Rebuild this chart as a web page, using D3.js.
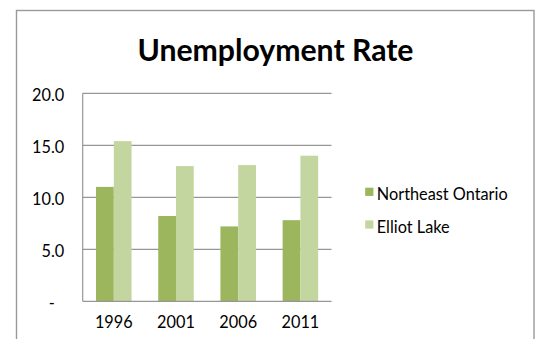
<!DOCTYPE html>
<html>
<head>
<meta charset="utf-8">
<script src="https://cdn.jsdelivr.net/npm/d3@7/dist/d3.min.js"></script>
<style>
  html, body { margin: 0; padding: 0; background: #ffffff; }
  svg { display: block; }
  text { font-family: Lato, "Open Sans", sans-serif; fill: #000; }
</style>
</head>
<body>
<svg id="chart" width="537" height="339"></svg>
<script>
// Unemployment rate (%) by census year
const years = ["1996", "2001", "2006", "2011"];
const seriesNames = ["Northeast Ontario", "Elliot Lake"];
const northeastOntario = [11.0, 8.2, 7.2, 7.8];
const elliotLake = [15.4, 13.0, 13.1, 14.0];
const yTicks = [0, 5, 10, 15, 20];
const chartTitle = "Unemployment Rate";

const colors = { "Northeast Ontario": "#9bb65c", "Elliot Lake": "#c4d6a0" };
const valuesBySeries = { "Northeast Ontario": northeastOntario, "Elliot Lake": elliotLake };

const labelSize = "16.3px";
const svg = d3.select("#chart");

// chart frame
svg.append("rect")
  .attr("x", 16.5).attr("y", 10.5)
  .attr("width", 517.5).attr("height", 400)
  .attr("fill", "#fff")
  .attr("stroke", "#9a9a9a")
  .attr("stroke-width", 1.4);

// title
svg.append("text")
  .attr("x", 275.5).attr("y", 61)
  .attr("text-anchor", "middle")
  .style("font-weight", "bold")
  .style("font-size", "30.2px")
  .text(chartTitle);

const plot = { left: 82.7, right: 331.5, top: 93.3, bottom: 301.3 };

const x0 = d3.scaleBand().domain(years).range([plot.left, plot.right]).padding(0);
const x1 = d3.scaleBand().domain(seriesNames).range([0, x0.bandwidth()])
  .paddingInner(0).paddingOuter(0.75);
const y = d3.scaleLinear().domain([0, 20]).range([plot.bottom, plot.top]);

// horizontal gridlines
svg.append("g")
  .selectAll("line")
  .data(yTicks.filter(t => t > 0))
  .join("line")
  .attr("x1", plot.left).attr("x2", plot.right)
  .attr("y1", d => y(d)).attr("y2", d => y(d))
  .attr("stroke", "#969696")
  .attr("stroke-width", 1.2);

// y-axis labels (zero shown as a dash)
svg.append("g")
  .selectAll("text")
  .data(yTicks)
  .join("text")
  .attr("x", 64.2)
  .attr("dx", d => d === 0 ? -9.5 : 0)
  .attr("y", d => y(d))
  .attr("dy", "0.45em")
  .attr("text-anchor", "end")
  .style("font-size", labelSize)
  .text(d => d === 0 ? "-" : d3.format(".1f")(d));

// bars
const groups = svg.append("g")
  .selectAll("g")
  .data(years)
  .join("g")
  .attr("transform", d => `translate(${x0(d)},0)`);

groups.selectAll("rect")
  .data((d, i) => seriesNames.map(s => ({ series: s, value: valuesBySeries[s][i] })))
  .join("rect")
  .attr("x", d => x1(d.series))
  .attr("width", x1.bandwidth())
  .attr("y", d => y(d.value))
  .attr("height", d => y(0) - y(d.value))
  .attr("fill", d => colors[d.series]);

// axes lines
svg.append("line")
  .attr("x1", plot.left).attr("x2", plot.left)
  .attr("y1", plot.top).attr("y2", plot.bottom)
  .attr("stroke", "#969696").attr("stroke-width", 1.2);
svg.append("line")
  .attr("x1", plot.left).attr("x2", plot.right)
  .attr("y1", plot.bottom).attr("y2", plot.bottom)
  .attr("stroke", "#969696").attr("stroke-width", 1.2);

// x-axis labels
svg.append("g")
  .selectAll("text")
  .data(years)
  .join("text")
  .attr("x", d => x0(d) + x0.bandwidth() / 2)
  .attr("y", 328)
  .attr("text-anchor", "middle")
  .style("font-size", labelSize)
  .text(d => d);

// legend
const legend = svg.append("g")
  .selectAll("g")
  .data(seriesNames)
  .join("g")
  .attr("transform", (d, i) => `translate(365.2,${200 + i * 32.7})`);

legend.append("rect")
  .attr("x", 0).attr("y", -12.3)
  .attr("width", 8.2).attr("height", 8.2)
  .attr("fill", d => colors[d]);

legend.append("text")
  .attr("x", 11.6).attr("y", 0)
  .style("font-size", labelSize)
  .text(d => d);
</script>
</body>
</html>
